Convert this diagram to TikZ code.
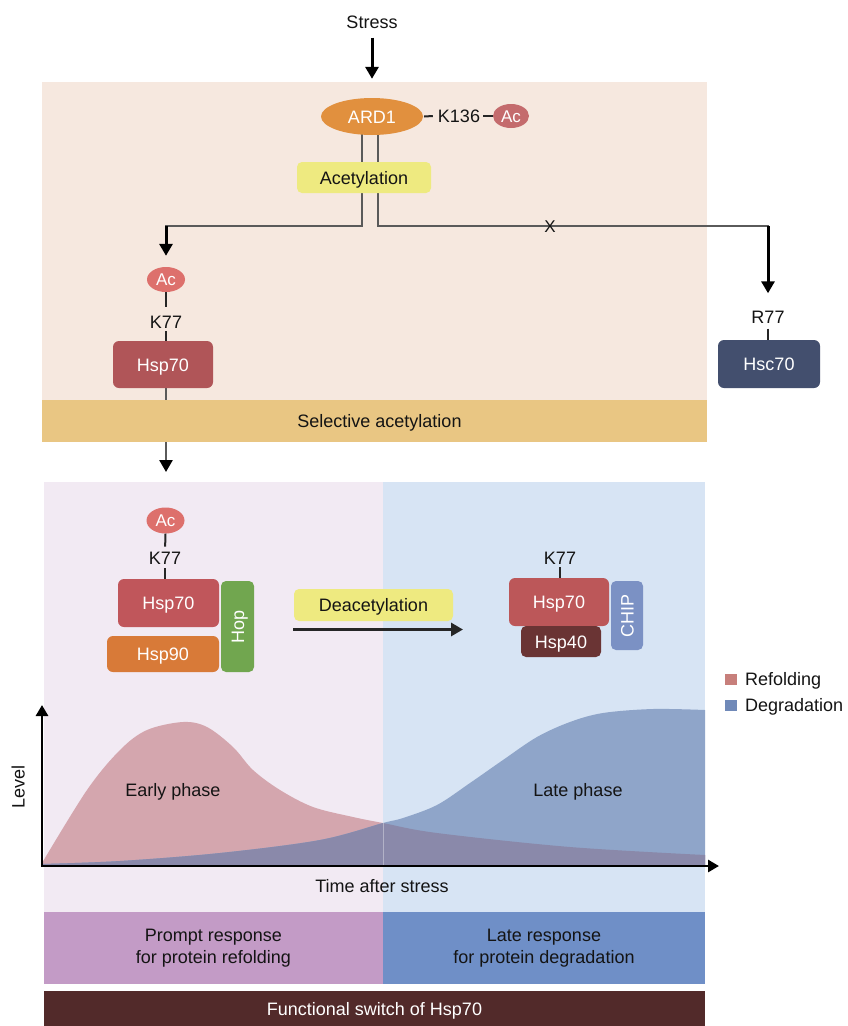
\documentclass[tikz,border=0pt]{standalone}
\usepackage{fontspec}
\setmainfont{Liberation Sans}
\usetikzlibrary{arrows.meta,shapes.geometric}
\pgfdeclarelayer{back}
\pgfdeclarelayer{lines}
\pgfsetlayers{back,lines,main}
\definecolor{peach}{HTML}{F6E8DF}
\definecolor{gold}{HTML}{E9C683}
\definecolor{ardorange}{HTML}{E1903E}
\definecolor{acdark}{HTML}{C46B6D}
\definecolor{ylw}{HTML}{EEEA80}
\definecolor{acmid}{HTML}{DD706C}
\definecolor{hspdark}{HTML}{B05558}
\definecolor{hscblue}{HTML}{434F6E}
\definecolor{lpink}{HTML}{F2EAF3}
\definecolor{lblue}{HTML}{D7E4F4}
\definecolor{hspred}{HTML}{C0565B}
\definecolor{hsporange}{HTML}{D87A38}
\definecolor{hopgreen}{HTML}{71A64F}
\definecolor{hspredtwo}{HTML}{BC5759}
\definecolor{hspforty}{HTML}{6A3434}
\definecolor{chipblue}{HTML}{7B91C4}
\definecolor{legpink}{HTML}{C77F7B}
\definecolor{legblue}{HTML}{7089B8}
\definecolor{chartpink}{HTML}{D4A6AE}
\definecolor{chartblue}{HTML}{8FA5C9}
\definecolor{overlapc}{HTML}{8A89AA}
\definecolor{bandpurple}{HTML}{C39BC6}
\definecolor{bandblue}{HTML}{6F8FC7}
\definecolor{darkbrown}{HTML}{522A2A}
\definecolor{linegray}{HTML}{5A5A5A}
\tikzset{
  capc/.style={text height=13pt, text depth=0pt},
  lbl/.style={inner sep=0pt, text=black!92, capc},
  prot/.style={rectangle, rounded corners=6pt, inner sep=0pt, text=white, capc},
  acnode/.style={ellipse, inner sep=0pt, minimum width=38pt, minimum height=25pt, text=white, font=\fontsize{17}{20}\selectfont, text height=12pt, text depth=0pt},
  conn/.style={draw=linegray, line width=2.6pt, line cap=rect},
  stem/.style={draw=black!85, line width=2pt},
  arr/.style={draw=black, line width=3pt, -{Triangle[length=12pt,width=13pt]}},
  tagbox/.style={rectangle, rounded corners=5pt, fill=ylw, inner sep=0pt, text=black!92, capc},
  bandbox/.style={rectangle, inner sep=0pt, align=center}
}
\begin{document}
\begin{tikzpicture}[x=1pt,y=-1pt, every node/.style={font=\fontsize{18}{22}\selectfont}]
\useasboundingbox (0,0) rectangle (847,1026);
\begin{pgfonlayer}{back}
  \fill[white] (0,0) rectangle (847,1026);
  \fill[peach] (42,82) rectangle (707,400);
  \fill[lpink] (44,482) rectangle (383,912);
  \fill[lblue] (383,482) rectangle (705,912);
\end{pgfonlayer}

% ---------- top part ----------
\node[lbl] (stress) at (372,22) {Stress};
\node[ellipse, fill=ardorange, minimum width=102pt, minimum height=37pt, inner sep=0pt, text=white, capc] (ARD1) at (372,116.5) {ARD1};
\node[lbl] (K136) at (459,116) {K136};
\node[acnode, fill=acdark, minimum width=36pt, minimum height=24pt] (AcT) at (511,116) {Ac};
\node[tagbox, minimum width=134pt, minimum height=31pt] (acet) at (364,177.5) {Acetylation};
\node[lbl, font=\fontsize{17}{20}\selectfont, text height=12pt] (X) at (550,226) {X};
\coordinate (cL) at (166,226);
\coordinate (cR) at (768,226);
\node[acnode, fill=acmid] (AcL) at (166,279.5) {Ac};
\node[lbl] (K77L) at (166,321.5) {K77};
\node[prot, fill=hspdark, minimum width=100pt, minimum height=47pt] (HspL) at (163,364.5) {Hsp70};
\node[lbl] (R77) at (768,317) {R77};
\node[prot, fill=hscblue, minimum width=102pt, minimum height=48pt] (Hsc) at (769,364) {Hsc70};
\node[bandbox, fill=gold, minimum width=665pt, minimum height=42pt, text=black!92, capc] (selband) at (374.5,420.5) {\hspace*{10pt}Selective acetylation};
\coordinate (tipB) at (166,472);

\begin{pgfonlayer}{lines}
  \draw[arr, shorten <=9pt, shorten >=19pt] (stress.south) -- (ARD1.north);
  \draw[conn] ([xshift=-10pt]ARD1.center) |- (cL);
  \draw[conn] ([xshift=6pt]ARD1.center) |- (cR);
  \draw[arr, shorten >=11pt] (cL) -- (AcL.north);
  \draw[arr, shorten >=17pt] (cR) -- (R77.north);
  \draw[stem] ([xshift=1pt]ARD1.east) -- ([xshift=-5pt]K136.west);
  \draw[stem] ([xshift=3pt]K136.east) -- (AcT.west);
  \draw[stem, shorten >=8pt] (AcL.south) -- (K77L.north);
  \draw[stem, shorten <=3pt] (K77L.south) -- (K77L.south |- HspL.north);
  \draw[stem, shorten <=5pt] (R77.south) -- (R77.south |- Hsc.north);
  \draw[conn, line cap=butt, -{Triangle[length=12pt,width=13pt,color=black]}] (HspL.south -| K77L) -- (tipB);
\end{pgfonlayer}

% ---------- chart ----------
\fill[chartpink] plot[smooth, tension=0.55] coordinates {(42,863) (87,790) (120,750) (147,730) (183,722) (207,727) (233,747) (253,770) (280,790) (313,807) (353,817) (383,823) (437,833) (570,847) (705,855)} -- (705,866) -- (42,866) -- cycle;
\fill[chartblue] plot[smooth, tension=0.55] coordinates {(42,864) (120,861) (220,853) (320,840) (383,823) (403,818) (437,805) (470,783) (503,760) (537,737) (570,722) (603,713) (653,709) (705,710)} -- (705,866) -- (42,866) -- cycle;
\begin{scope}
  \clip plot[smooth, tension=0.55] coordinates {(42,863) (87,790) (120,750) (147,730) (183,722) (207,727) (233,747) (253,770) (280,790) (313,807) (353,817) (383,823) (437,833) (570,847) (705,855)} -- (705,866) -- (42,866) -- cycle;
  \fill[overlapc] plot[smooth, tension=0.55] coordinates {(42,864) (120,861) (220,853) (320,840) (383,823) (403,818) (437,805) (470,783) (503,760) (537,737) (570,722) (603,713) (653,709) (705,710)} -- (705,866) -- (42,866) -- cycle;
\end{scope}
\draw[white, opacity=0.35, line width=0.6pt] (383,823) -- (383,866);
\coordinate (O) at (42,866);
\coordinate (Ytip) at (42,705);
\coordinate (Xtip) at (719,866);
\draw[black, line width=2.8pt, {Triangle[length=11pt,width=12pt]}-{Triangle[length=11pt,width=12pt]}] (Ytip) -- (O) -- (Xtip);
\node[lbl, rotate=90] (level) at (18,787) {Level};
\node[lbl] (early) at (173,790) {Early phase};
\node[lbl] (latep) at (578,790) {Late phase};
\node[lbl] (time) at (382,886) {Time after stress};

% ---------- complexes ----------
\node[acnode, fill=acmid, minimum height=26pt] (AcB) at (165.5,520.5) {Ac};
\node[lbl] (K77B) at (165,558.3) {K77};
\node[prot, fill=hspred, minimum width=101pt, minimum height=48pt] (HspB) at (168.5,603) {Hsp70};
\node[prot, fill=hsporange, minimum width=112pt, minimum height=36pt] (Hsp90) at (163,654) {Hsp90};
\node[prot, rounded corners=5pt, fill=hopgreen, minimum width=91pt, minimum height=33pt, rotate=90] (Hop) at (237.5,626.5) {Hop};
\draw[stem, shorten >=5pt] (AcB.south) -- (K77B.north);
\draw[stem, shorten <=3pt] (K77B.south) -- (K77B.south |- HspB.north);

\node[tagbox, minimum width=159pt, minimum height=32pt] (deac) at (373.5,605) {Deacetylation};
\coordinate (dS) at (293,629.5);
\coordinate (dE) at (463,629.5);
\draw[arr, draw=black!85] (dS) -- (dE);

\node[lbl] (K77R) at (560,557.7) {K77};
\node[prot, fill=hspredtwo, minimum width=100pt, minimum height=48pt] (HspR) at (559,602) {Hsp70};
\node[prot, rounded corners=5pt, fill=hspforty, minimum width=80pt, minimum height=31pt] (Hsp40) at (561,641.5) {Hsp40};
\node[prot, rounded corners=5pt, fill=chipblue, minimum width=69pt, minimum height=32pt, rotate=90] (CHIP) at (627,615.5) {CHIP};
\draw[stem, shorten <=3pt] (K77R.south) -- (K77R.south |- HspR.north);

% ---------- legend ----------
\node[fill=legpink, minimum width=12pt, minimum height=11pt, inner sep=0pt] (legR) at (731,679) {};
\node[lbl, anchor=west] (legRt) at (745,679) {Refolding};
\node[fill=legblue, minimum width=12pt, minimum height=11pt, inner sep=0pt] (legD) at (731,705) {};
\node[lbl, anchor=west] (legDt) at (745,705) {Degradation};

% ---------- bottom bands ----------
\node[bandbox, fill=bandpurple, minimum width=339pt, minimum height=72pt, text=black!92] (prompt) at (213.5,948) {Prompt response\\for protein refolding};
\node[bandbox, fill=bandblue, minimum width=322pt, minimum height=72pt, text=black!92] (lateresp) at (544,948) {Late response\\for protein degradation};
\node[bandbox, fill=darkbrown, minimum width=661pt, minimum height=35pt, text=white, capc] (switch) at (374.5,1008.5) {Functional switch of Hsp70};
\end{tikzpicture}
\end{document}
